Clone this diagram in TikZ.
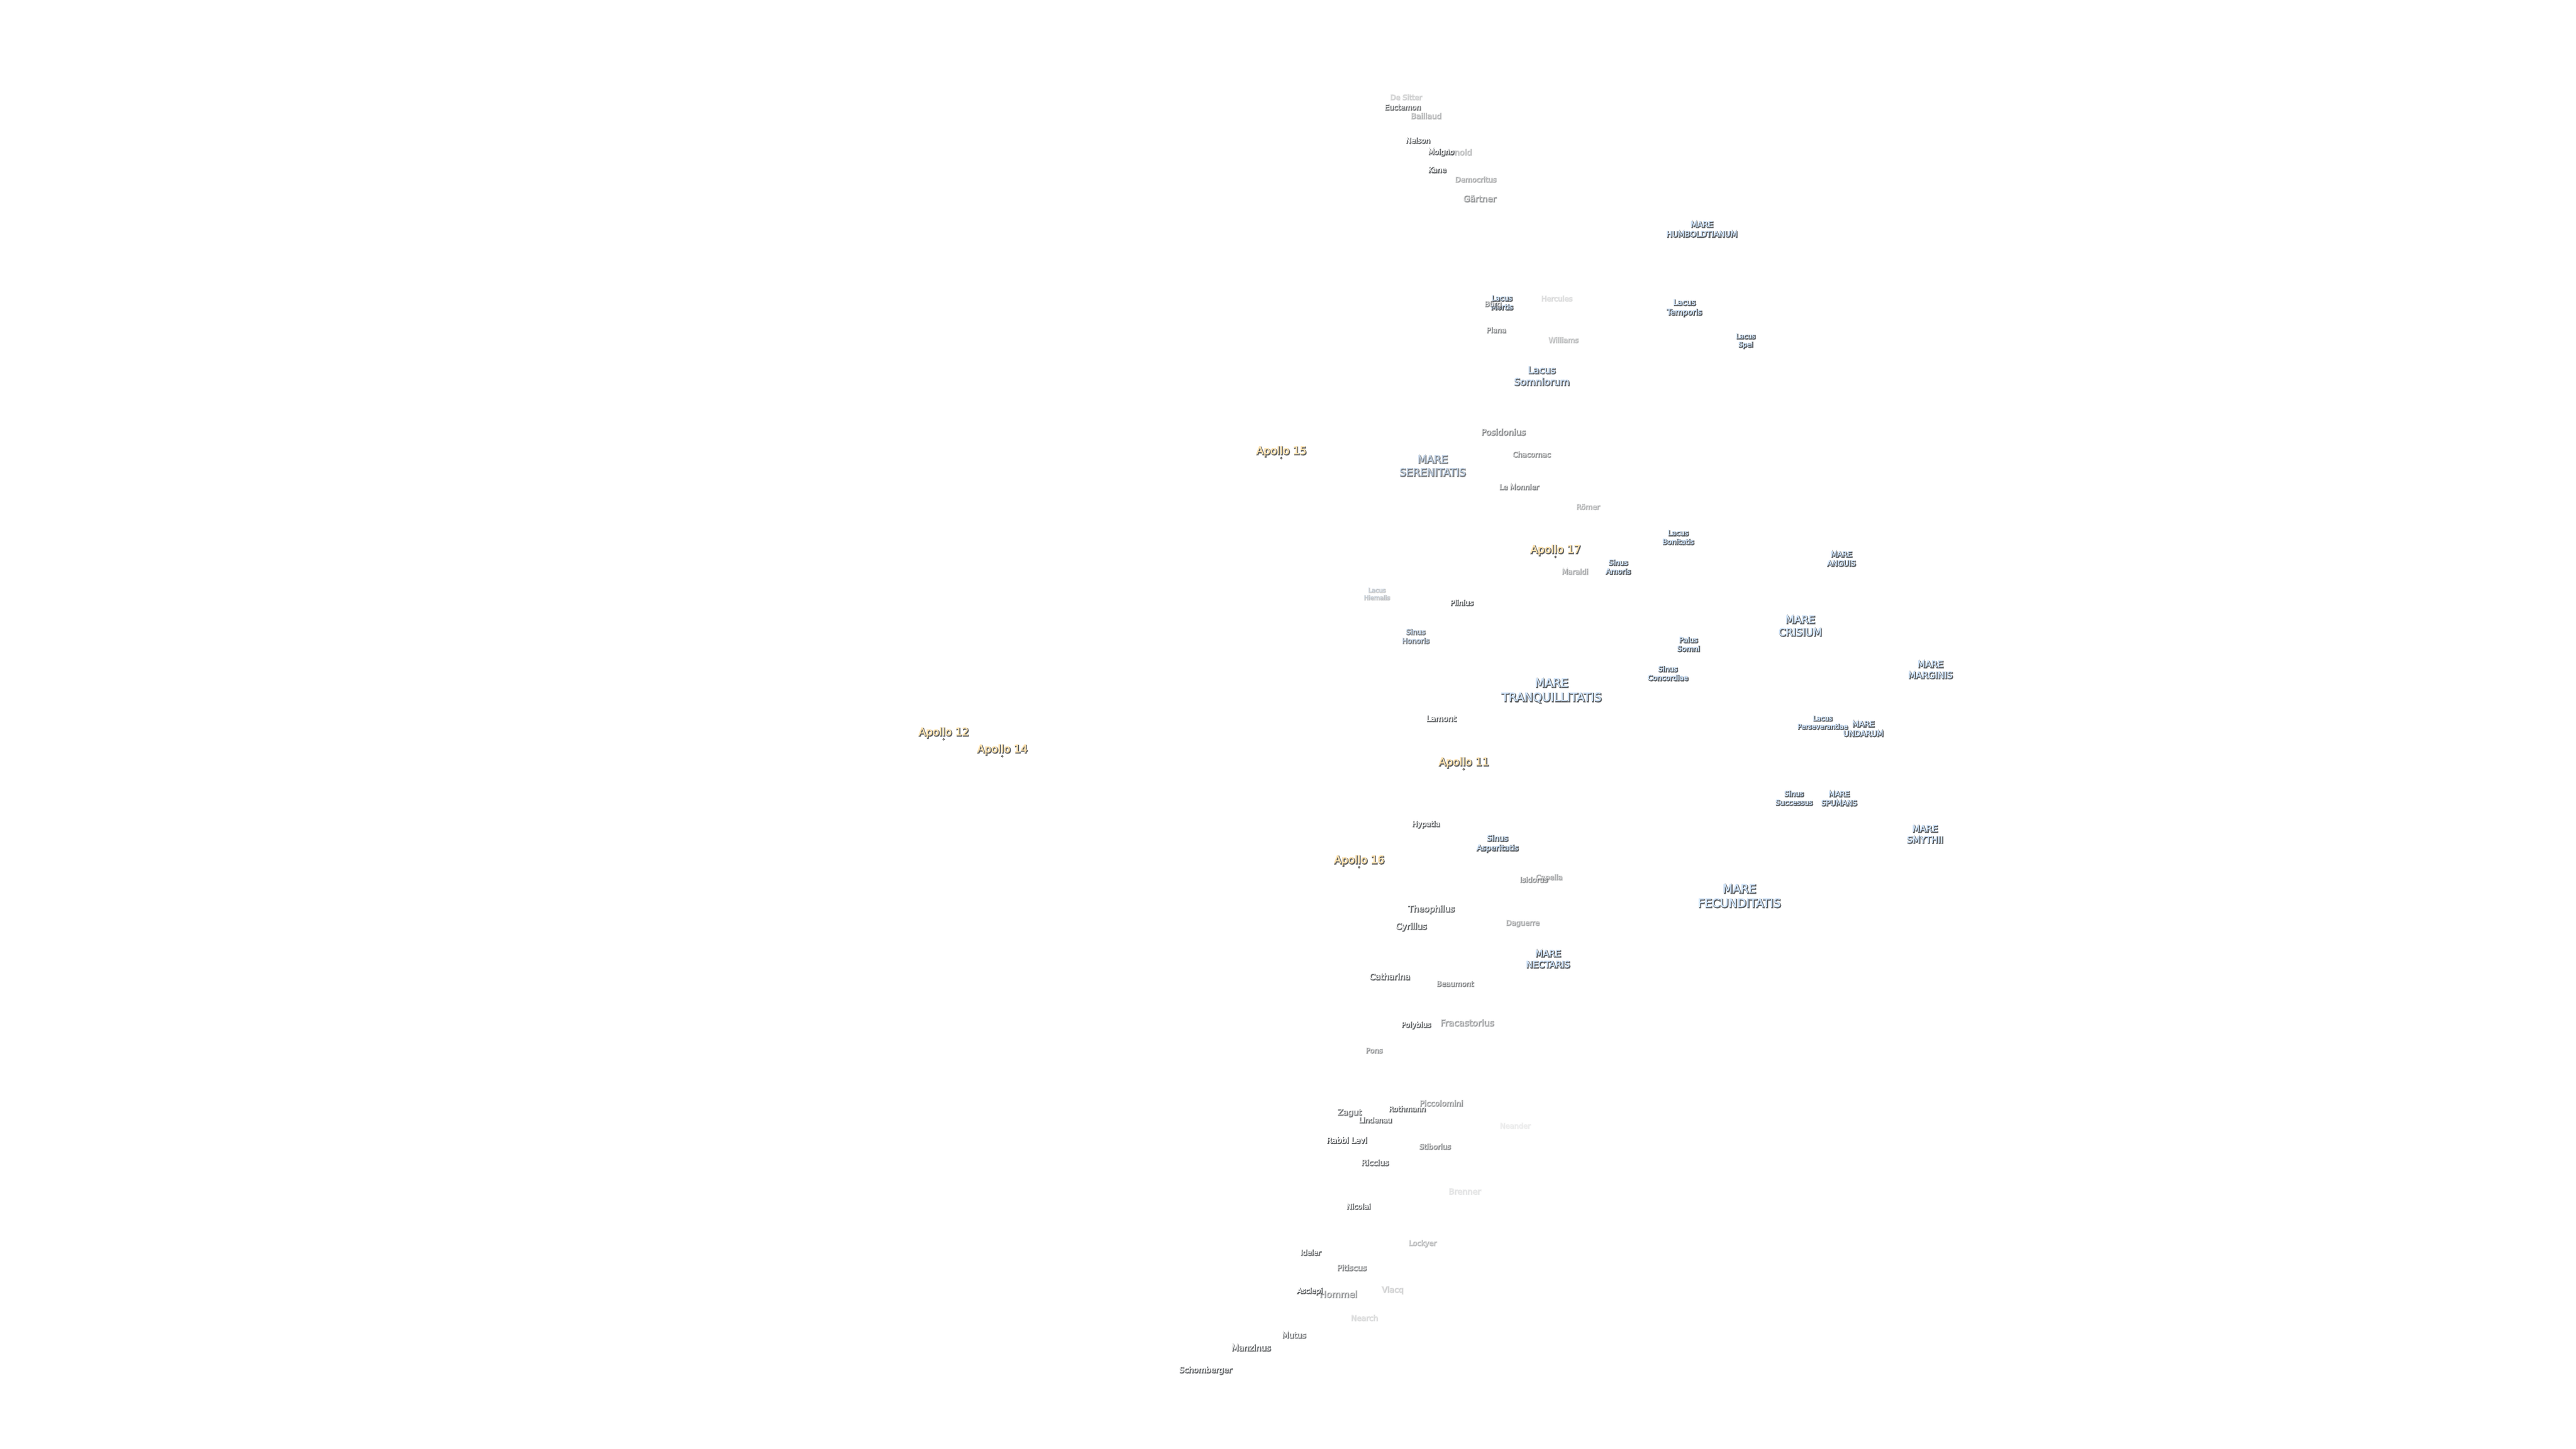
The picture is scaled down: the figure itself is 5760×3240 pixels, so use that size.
\documentclass[tikz,border=0pt]{standalone}
\usepackage{fontspec}
\setmainfont{DejaVu Sans}
\newcommand{\strokeon}[2]{\special{pdf:code #1 RG 2 Tr #2 w}}
\newcommand{\strokeoff}{\special{pdf:code 0 Tr}}
\definecolor{waterfill}{HTML}{CFE3F9}
\definecolor{apollofill}{HTML}{FFE2AE}
\definecolor{shadowcol}{HTML}{4E5054}
\tikzset{
  lbl/.style={inner sep=0pt,outer sep=0pt,align=center},
  shadowlbl/.style={lbl,text=shadowcol},
  apdot/.style={circle,inner sep=0pt,minimum size=4pt,fill=apollofill,draw=shadowcol,line width=1.2pt}
}
\newcommand{\lab}[8]{%
  \node[shadowlbl,opacity=0.8*#5,font=\fontsize{#4}{\the\dimexpr#4pt*123/100\relax}\selectfont] (#1s) at (#2+1.5,#3+1.8)
    {\strokeon{0.31 0.32 0.33}{2.4}#8\strokeoff};
  \node[lbl,text=#6,opacity=#5,font=\fontsize{#4}{\the\dimexpr#4pt*123/100\relax}\selectfont] (#1) at (#2,#3)
    {\strokeon{#7}{0.5}#8\strokeoff};
}
\newcommand{\wat}[6]{\lab{#1}{#2}{#3}{#4}{#5}{waterfill}{0.81 0.89 0.98}{#6}}
\newcommand{\cra}[6]{\lab{#1}{#2}{#3}{#4}{#5}{white}{1 1 1}{#6}}
\newcommand{\apo}[4]{%
  \lab{#1}{#2}{#3}{24}{1}{apollofill}{1 0.886 0.682}{#4}
  \node[apdot] (#1dot) at (#2,#3+15.5) {};
}
\begin{document}
\begin{tikzpicture}[x=1pt,y=-1pt]
\useasboundingbox (0,0) rectangle (5760,3240);
% seas and lakes
\wat{humb}{3805}{512}{17.5}{1}{MARE\\HUMBOLDTIANUM}
\wat{mortis}{3358}{676}{16}{1}{Lacus\\Mortis}
\wat{temporis}{3766}{688}{17.5}{1}{Lacus\\Temporis}
\wat{spei}{3903}{762}{15}{1}{Lacus\\Spei}
\wat{somniorum}{3447}{840}{21.5}{0.9}{Lacus\\Somniorum}
\wat{serenitatis}{3203}{1041}{23.5}{0.7}{MARE\\SERENITATIS}
\wat{bonitatis}{3752}{1201}{16}{1}{Lacus\\Bonitatis}
\wat{amoris}{3618}{1267}{16}{1}{Sinus\\Amoris}
\wat{hiemalis}{3078}{1327}{13.5}{0.25}{Lacus\\Hiemalis}
\wat{honoris}{3165}{1422}{16}{0.7}{Sinus\\Honoris}
\wat{crisium}{4025}{1399}{23}{1}{MARE\\CRISIUM}
\wat{somni}{3775}{1440}{16}{1}{Palus\\Somni}
\wat{concordiae}{3729}{1505}{16}{1}{Sinus\\Concordiae}
\wat{tranq}{3469}{1544}{26}{1}{MARE\\TRANQUILLITATIS}
\wat{anguis}{4117}{1249}{16.5}{1}{MARE\\ANGUIS}
\wat{marginis}{4316}{1497}{20}{1}{MARE\\MARGINIS}
\wat{perseverantiae}{4075}{1615}{15}{1}{Lacus\\Perseverantiae}
\wat{undarum}{4166}{1629}{17.3}{1}{MARE\\UNDARUM}
\wat{successus}{4011}{1784}{16}{1}{Sinus\\Successus}
\wat{spumans}{4112}{1785}{16.3}{1}{MARE\\SPUMANS}
\wat{smythii}{4304}{1865}{20}{1}{MARE\\SMYTHII}
\wat{fecunditatis}{3889}{2003}{26}{1}{MARE\\FECUNDITATIS}
\wat{asperitatis}{3348}{1886}{17.5}{1}{Sinus\\Asperitatis}
\wat{nectaris}{3461}{2144}{20}{1}{MARE\\NECTARIS}
% craters, north
\cra{desitter}{3143}{216}{16}{0.2}{De Sitter}
\cra{baillaud}{3188}{258}{17}{0.35}{Baillaud}
\cra{euctemon}{3136}{239}{16}{0.75}{Euctemon}
\cra{nelson}{3170}{313}{16}{1}{Nelson}
\cra{arnold}{3261}{339}{18}{0.3}{Arnold}
\cra{moigno}{3222}{340}{16}{0.85}{Moigno}
\cra{kane}{3213}{379}{16}{0.9}{Kane}
\cra{democritus}{3299}{400}{16}{0.4}{Democritus}
\cra{gaertner}{3308}{443}{19}{0.5}{Gärtner}
\cra{burg}{3338}{680}{16}{0.6}{Bürg}
\cra{hercules}{3480}{666}{16}{0.15}{Hercules}
\cra{plana}{3345}{737}{16}{0.6}{Plana}
\cra{williams}{3495}{759}{16}{0.3}{Williams}
\cra{posidonius}{3361}{965}{18.7}{0.6}{Posidonius}
\cra{chacornac}{3424}{1015}{16}{0.55}{Chacornac}
\cra{lemonnier}{3396}{1088}{16}{0.6}{Le Monnier}
\cra{roemer}{3550}{1132}{16}{0.35}{Römer}
\cra{maraldi}{3521}{1277}{16}{0.4}{Maraldi}
\cra{plinius}{3268}{1347}{16}{0.95}{Plinius}
\cra{lamont}{3222}{1606}{17.6}{0.9}{Lamont}
% craters, middle
\cra{hypatia}{3188}{1843}{16}{0.85}{Hypatia}
\cra{capella}{3463}{1962}{16}{0.4}{Capella}
\cra{isidorus}{3429}{1966}{16}{0.55}{Isidorus}
\cra{theophilus}{3200}{2033}{19}{0.8}{Theophilus}
\cra{cyrillus}{3155}{2072}{18.7}{0.85}{Cyrillus}
\cra{daguerre}{3404}{2064}{16}{0.4}{Daguerre}
\cra{catharina}{3107}{2183}{18.6}{0.85}{Catharina}
\cra{beaumont}{3253}{2199}{16}{0.6}{Beaumont}
\cra{fracastorius}{3280}{2286}{19.8}{0.45}{Fracastorius}
\cra{polybius}{3166}{2292}{16}{0.85}{Polybius}
\cra{pons}{3072}{2348}{16}{0.5}{Pons}
% craters, south
\cra{piccolomini}{3222}{2466}{17.2}{0.5}{Piccolomini}
\cra{rothmann}{3146}{2479}{16}{0.8}{Rothmann}
\cra{zagut}{3017}{2488}{18}{0.7}{Zagut}
\cra{lindenau}{3075}{2504}{16}{0.85}{Lindenau}
\cra{neander}{3387}{2516}{16}{0.08}{Neander}
\cra{rabbilevi}{3011}{2549}{17.4}{1}{Rabbi Levi}
\cra{stiborius}{3208}{2563}{16}{0.55}{Stiborius}
\cra{riccius}{3074}{2599}{17.5}{0.8}{Riccius}
\cra{brenner}{3274}{2663}{18}{0.12}{Brenner}
\cra{nicolai}{3037}{2697}{16}{0.85}{Nicolai}
\cra{lockyer}{3180}{2780}{16}{0.3}{Lockyer}
\cra{ideler}{2930}{2800}{16}{0.9}{Ideler}
\cra{pitiscus}{3022}{2834}{17.5}{0.6}{Pitiscus}
\cra{hommel}{2992}{2893}{20}{0.5}{Hommel}
\cra{asclepi}{2928}{2887}{16}{1}{Asclepi}
\cra{vlacq}{3113}{2884}{17.5}{0.2}{Vlacq}
\cra{nearch}{3050}{2946}{17}{0.15}{Nearch}
\cra{mutus}{2893}{2985}{17.6}{0.7}{Mutus}
\cra{manzinus}{2797}{3013}{18.7}{0.85}{Manzinus}
\cra{schomberger}{2695}{3064}{17.5}{0.85}{Schomberger}
% landing sites
\apo{apolloXV}{2865}{1009}{Apollo 15}
\apo{apolloXVII}{3478}{1230}{Apollo 17}
\apo{apolloXII}{2110}{1638}{Apollo 12}
\apo{apolloXIV}{2241}{1676}{Apollo 14}
\apo{apolloXI}{3273}{1705}{Apollo 11}
\apo{apolloXVI}{3039}{1924}{Apollo 16}
\end{tikzpicture}
\end{document}
